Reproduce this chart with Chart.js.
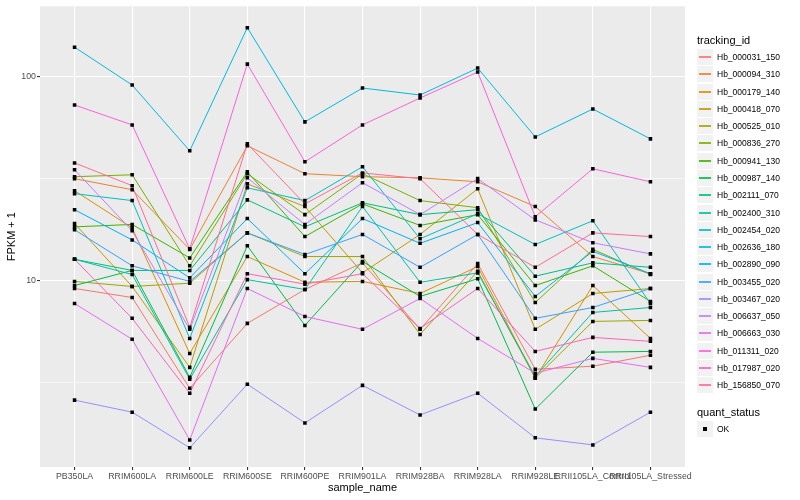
<!DOCTYPE html>
<html>
<head>
<meta charset="utf-8">
<script src="https://cdn.jsdelivr.net/npm/chart.js@4.4.1/dist/chart.umd.min.js"></script>
<style>
body { margin: 0; background: #fff; font-family: "Liberation Sans", Arial, sans-serif; }
#wrap { position: relative; width: 800px; height: 500px; }
#legend { position: absolute; left: 0; top: 0; width: 800px; height: 500px; pointer-events: none; }
.ttl { position: absolute; left: 697px; font-size: 11px; line-height: 14px; color: #000; }
.key { position: absolute; left: 697px; width: 16px; height: 16px; background: #F2F2F2; }
.key i { position: absolute; left: 2px; width: 12px; top: 7px; height: 2px; opacity: 0.85; }
.key b { position: absolute; left: 6px; top: 6px; width: 4px; height: 4px; background: #000; }
.lab { position: absolute; left: 717px; font-size: 8.5px; line-height: 16px; color: #000; white-space: nowrap; }
</style>
</head>
<body>
<div id="wrap">
<canvas id="chart" width="800" height="500"></canvas>
<div id="legend"></div>
</div>
<script>
samples = ['PB350LA', 'RRIM600LA', 'RRIM600LE', 'RRIM600SE', 'RRIM600PE', 'RRIM901LA',
    'RRIM928BA', 'RRIM928LA', 'RRIM928LE', 'RRII105LA_Control', 'RRII105LA_Stressed']

// FPKM + 1, one value per sample
Hb_000031_150 = [9.14, 8.26, 2.97, 6.17, 9.04, 12.2, 5.77, 12.1, 3.68, 3.81, 4.31]
Hb_000094_310 = [31.5, 27.8, 14.2, 45.6, 33.3, 32.2, 31.8, 30.4, 23.0, 13.1, 10.8]
Hb_000179_140 = [27.5, 18.1, 4.40, 13.1, 9.8, 9.9, 8.64, 11.7, 3.33, 9.45, 5.21]
Hb_000418_070 = [19.0, 9.35, 3.76, 29.7, 23.0, 10.9, 16.8, 28.1, 5.77, 8.64, 9.14]
Hb_000525_010 = [9.9, 9.35, 9.7, 17.1, 13.1, 13.1, 5.45, 11.1, 3.33, 6.31, 6.38]
Hb_000836_270 = [32.2, 32.9, 11.8, 33.3, 21.0, 33.3, 24.6, 22.7, 7.81, 14.2, 10.7]
Hb_000941_130 = [18.3, 18.8, 12.9, 34.0, 16.4, 23.7, 18.6, 21.0, 9.45, 11.8, 7.90]
Hb_000987_140 = [9.45, 11.2, 3.36, 14.8, 6.03, 12.4, 8.36, 10.2, 2.35, 4.46, 4.50]
Hb_002111_070 = [12.7, 11.2, 11.2, 24.8, 18.3, 24.0, 21.0, 22.2, 10.5, 12.2, 11.6]
Hb_002400_310 = [12.7, 10.7, 3.29, 10.1, 9.04, 23.0, 9.8, 10.9, 3.40, 6.98, 7.38]
Hb_002454_020 = [26.6, 24.6, 5.21, 28.4, 24.6, 36.0, 16.0, 21.2, 15.0, 19.6, 7.72]
Hb_002636_180 = [138.5, 90.4, 43.1, 172.5, 59.7, 87.4, 80.8, 109.4, 50.4, 69.0, 49.3]
Hb_002890_090 = [22.2, 15.8, 10.3, 20.1, 10.8, 20.1, 15.2, 19.2, 8.36, 13.9, 10.8]
Hb_003455_020 = [17.7, 11.8, 9.9, 17.1, 13.4, 16.8, 11.6, 16.8, 6.53, 7.38, 9.14]
Hb_003467_020 = [2.60, 2.27, 1.52, 3.11, 2.01, 3.07, 2.20, 2.81, 1.70, 1.57, 2.27]
Hb_006637_050 = [34.8, 17.5, 5.77, 31.8, 18.8, 30.1, 21.0, 31.5, 19.8, 15.3, 13.5]
Hb_006663_030 = [7.72, 5.16, 1.66, 9.14, 6.67, 5.77, 8.17, 5.21, 3.52, 4.16, 3.76]
Hb_011311_020 = [72.2, 57.7, 14.3, 114.4, 38.1, 57.7, 78.1, 104.6, 20.5, 35.2, 30.4]
Hb_017987_020 = [12.7, 6.53, 2.81, 10.8, 9.6, 10.8, 5.83, 9.14, 4.50, 5.27, 5.04]
Hb_156850_070 = [37.6, 29.1, 5.90, 46.6, 23.7, 33.6, 31.5, 16.8, 11.6, 17.1, 16.4]

trackingIds = ['Hb_000031_150', 'Hb_000094_310', 'Hb_000179_140', 'Hb_000418_070', 'Hb_000525_010',
    'Hb_000836_270', 'Hb_000941_130', 'Hb_000987_140', 'Hb_002111_070', 'Hb_002400_310',
    'Hb_002454_020', 'Hb_002636_180', 'Hb_002890_090', 'Hb_003455_020', 'Hb_003467_020',
    'Hb_006637_050', 'Hb_006663_030', 'Hb_011311_020', 'Hb_017987_020', 'Hb_156850_070']
series = [Hb_000031_150, Hb_000094_310, Hb_000179_140, Hb_000418_070, Hb_000525_010,
    Hb_000836_270, Hb_000941_130, Hb_000987_140, Hb_002111_070, Hb_002400_310,
    Hb_002454_020, Hb_002636_180, Hb_002890_090, Hb_003455_020, Hb_003467_020,
    Hb_006637_050, Hb_006663_030, Hb_011311_020, Hb_017987_020, Hb_156850_070]

yMajor = [10, 100]
yMinor = [3.162, 31.62]

lineColors = ['#F8766D', '#EA8331', '#D89000', '#C09B00', '#A3A500', '#7CAE00', '#39B600', '#00BB4E',
    '#00BF7D', '#00C1A3', '#00BFC4', '#00BAE0', '#00B0F6', '#35A2FF', '#9590FF', '#C77CFF',
    '#E76BF3', '#FA62DB', '#FF62BC', '#FF6C91']

let fam = '"Liberation Sans", Arial, sans-serif'

let datasets = trackingIds.map(function (id, i) {
    return {
        label: id,
        data: series[i].map((v, j) => ({ x: j, y: v })),
        borderColor: lineColors[i],
        borderWidth: 1,
        pointRadius: 0,
        tension: 0,
        fill: false,
        order: -i
    }
})
datasets.push({
    label: 'OK',
    type: 'scatter',
    data: series.flatMap(s => s.map((v, j) => ({ x: j, y: v }))),
    pointStyle: 'rect',
    pointRadius: 2.5,
    backgroundColor: '#000',
    borderWidth: 0,
    showLine: false,
    order: -100
})

// grey panel behind the grid
const panelBg = {
    id: 'panelBg',
    beforeDraw(chart) {
        const a = chart.chartArea
        const c = chart.ctx
        c.save()
        c.fillStyle = '#EBEBEB'
        c.fillRect(a.left, a.top, a.right - a.left, a.bottom - a.top)
        c.restore()
    }
}

const isMajor = v => yMajor.some(m => Math.abs(m - v) < 1e-6)

var ctx = document.getElementById('chart').getContext('2d')
var chart = new Chart(ctx, {
    type: 'line',
    data: { datasets: datasets },
    plugins: [panelBg],
    options: {
        responsive: false,
        animation: false,
        devicePixelRatio: 1,
        layout: { padding: { left: 0, top: 5, right: 115, bottom: 0 } },
        plugins: { legend: { display: false }, tooltip: { enabled: false } },
        scales: {
            x: {
                type: 'linear',
                min: -0.6,
                max: 10.6,
                afterBuildTicks: s => { s.ticks = samples.map((_, j) => ({ value: j })) },
                afterFit: s => { s.height = 33 },
                ticks: {
                    callback: v => samples[v],
                    autoSkip: false, maxRotation: 0, minRotation: 0,
                    color: '#4D4D4D', font: { size: 8.8, family: fam }, padding: 1
                },
                grid: { color: '#FFFFFF', lineWidth: 1.1, tickLength: 3, tickColor: '#333333' },
                border: { display: false },
                title: {
                    display: true, text: 'sample_name', color: '#000',
                    font: { size: 11, family: fam }, padding: { top: 0, bottom: 5 }
                }
            },
            y: {
                type: 'logarithmic',
                min: 1.224,
                max: 219.5,
                afterBuildTicks: s => { s.ticks = yMinor.concat(yMajor).sort((a, b) => a - b).map(v => ({ value: v })) },
                afterFit: s => { s.width = 40 },
                ticks: {
                    callback: v => isMajor(v) ? String(v) : '',
                    color: '#4D4D4D', font: { size: 8.8, family: fam }, padding: 1
                },
                grid: {
                    color: '#FFFFFF',
                    lineWidth: c => isMajor(c.tick.value) ? 1.1 : 0.55,
                    tickLength: 3,
                    tickColor: c => isMajor(c.tick.value) ? '#333333' : 'rgba(0,0,0,0)'
                },
                border: { display: false },
                title: {
                    display: true, text: 'FPKM + 1', color: '#000',
                    font: { size: 11, family: fam }, padding: { top: 5.4, bottom: 0 }
                }
            }
        }
    }
})

// legend in the ggplot style
legend = document.getElementById('legend')
let html = '<div class="ttl" style="top:33px">tracking_id</div>'
trackingIds.forEach(function (id, i) {
    let top = Math.round(49 + i * 17.28)
    html += `<div class="key" style="top:${top}px"><i style="background:${lineColors[i]}"></i></div>`
    html += `<div class="lab" style="top:${top}px">${id}</div>`
})
html += '<div class="ttl" style="top:405px">quant_status</div>'
html += '<div class="key" style="top:421px"><b></b></div>'
html += '<div class="lab" style="top:421px">OK</div>'
legend.innerHTML = html
</script>
</body>
</html>
